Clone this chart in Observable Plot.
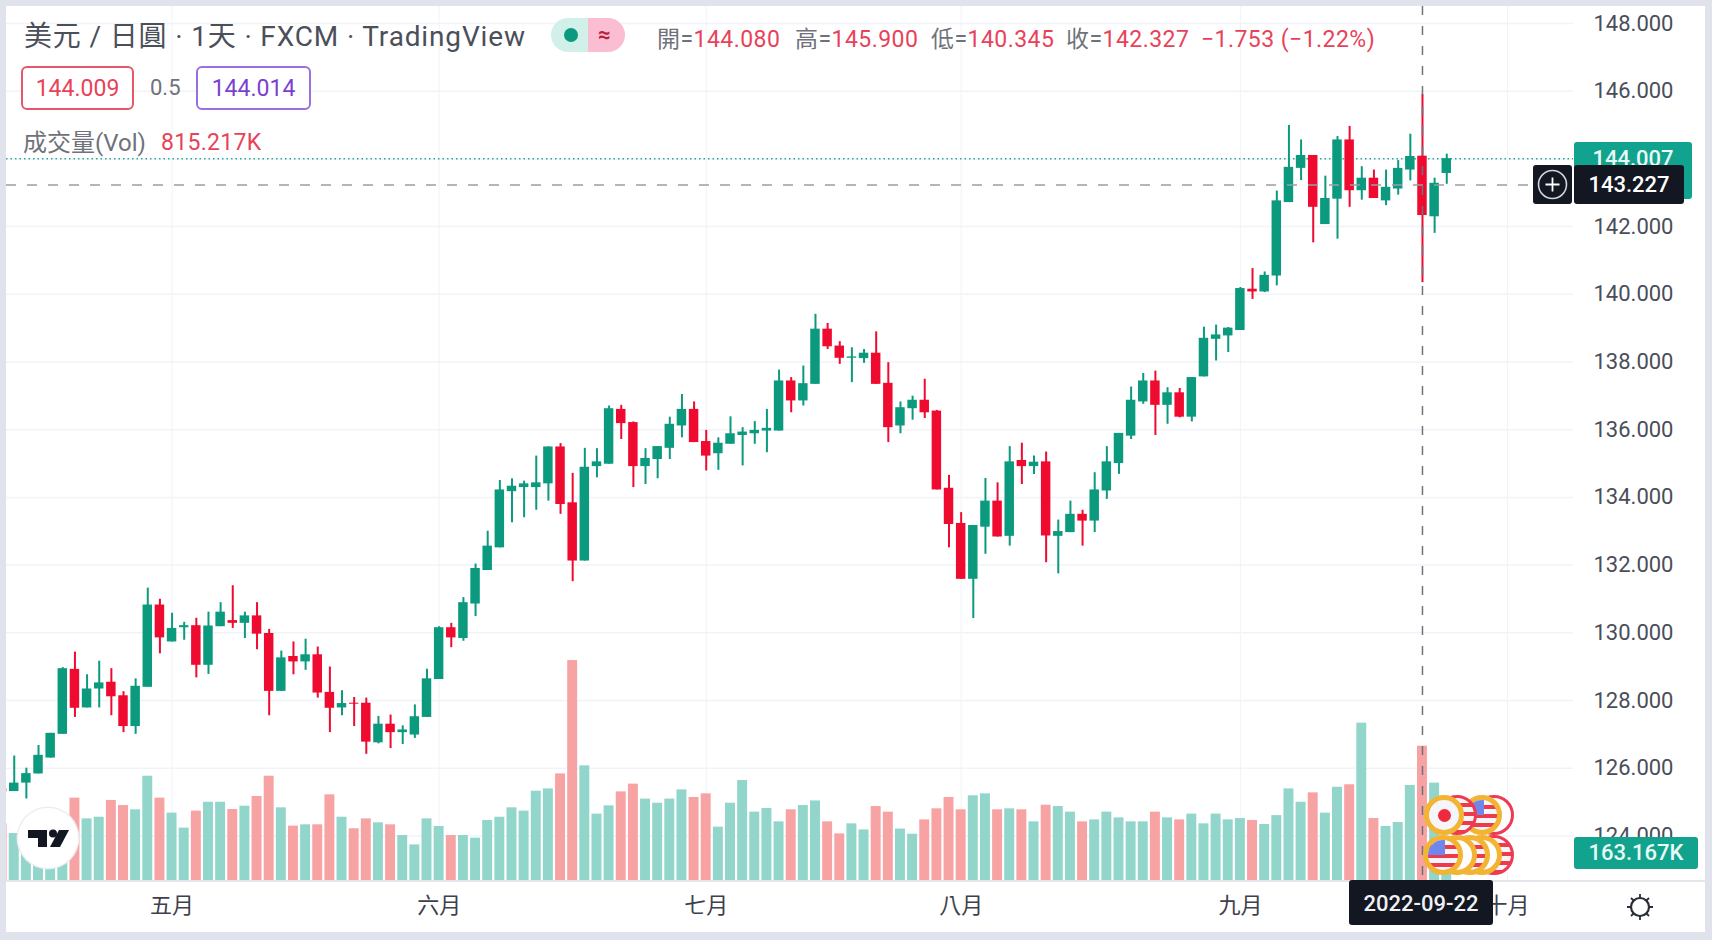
<!DOCTYPE html>
<html lang="zh-Hant">
<head>
<meta charset="utf-8">
<script src="https://cdn.jsdelivr.net/npm/d3@7"></script>
<script src="https://cdn.jsdelivr.net/npm/@observablehq/plot@0.6"></script>
<style>
html,body{margin:0;padding:0;background:#e0e3eb;}
#stage{position:relative;width:1712px;height:940px;overflow:hidden;background:#e0e3eb;font-family:Roboto,"Noto Sans CJK TC",sans-serif;}
#card{position:absolute;left:6px;top:6px;width:1699px;height:926px;background:#fff;}
#stage svg.layer, #stage figure{position:absolute;left:0;top:0;margin:0;}
.t{position:absolute;white-space:nowrap;line-height:1;}
.gray{color:#6f727b}.red{color:#e8425a}
.box{position:absolute;box-sizing:border-box;border-radius:6px;background:#fff;text-align:center;font-size:23px;}
.tag{position:absolute;box-sizing:border-box;text-align:center;border-radius:3px;font-size:22px;font-weight:500;}
.coin{position:absolute;box-sizing:border-box;width:40px;height:40px;border-radius:50%;}
</style>
</head>
<body>
<div id="stage"><div id="card"></div></div>
<script>
const opens=[125.4,125.31,125.56,125.83,126.3,127,128.92,127.78,128.34,128.54,128.14,127.23,128.39,130.82,129.73,130.15,130.21,129.04,130.18,130.36,
130.28,130.5,129.98,128.27,129.3,129.14,129.35,128.24,127.78,127.92,127.92,126.75,127.3,127.05,126.98,127.5,128.62,130.15,129.83,130.85,
131.84,132.51,134.17,134.29,134.29,134.4,135.49,133.84,132.12,134.91,134.98,136.6,136.21,134.91,135.12,135.45,136.11,136.6,135.65,135.29,
135.57,135.83,135.88,135.96,135.96,137.44,136.85,137.34,138.97,138.47,138.11,138.1,138.26,137.37,136.11,136.62,136.87,136.55,134.27,133.23,
131.58,133.12,133.89,132.85,135.09,134.91,135.05,132.85,132.96,133.5,133.3,134.19,135,135.81,136.82,137.44,136.72,137.09,136.37,137.56,
138.67,138.77,138.93,140.15,140.07,140.54,142.71,143.72,144.1,142.06,142.81,144.56,143.06,143.43,142.76,143.11,143.67,144.08,142.29,143.57];
const highs=[125.45,126.36,126,126.67,127.03,128.97,129.43,128.76,129.16,128.94,128.26,128.64,131.32,130.99,130.58,130.31,130.43,130.61,130.89,131.39,
130.61,130.89,130.1,129.46,129.73,129.81,129.58,128.99,128.29,128.09,128.07,127.53,127.57,127.25,127.87,128.92,130.18,130.28,131.04,132.03,
133,134.5,134.55,134.48,135.22,135.49,135.59,134.71,135.45,135.44,136.7,136.72,136.23,135.44,135.5,136.37,137.04,136.82,135.98,135.76,
136.38,136.06,136.24,136.6,137.76,137.54,137.88,139.41,139.14,138.6,138.42,138.37,138.89,137.98,136.82,136.99,137.49,136.57,134.65,133.55,
133.17,134.56,134.43,135.5,135.6,135.22,135.34,133.33,133.89,133.62,134.73,135.5,135.89,137.26,137.66,137.73,137.24,137.22,137.54,139.03,
139.09,139.02,140.2,140.76,140.66,143.05,144.99,144.56,144.1,143.49,144.66,144.96,143.77,143.67,143.67,143.95,144.73,145.9,143.43,144.14];
const lows=[125.25,125.31,125.09,125.83,126.3,127,127.5,127.78,127.78,127.55,127.05,127,128.39,129.38,129.73,129.78,128.67,128.77,130.18,130.13,
129.83,129.5,127.55,128.27,128.76,128.89,128.07,127.05,127.55,127.23,126.41,126.72,126.58,126.7,126.88,127.5,128.62,129.56,129.75,130.48,
131.84,132.51,133.25,133.4,133.62,133.89,133.5,131.51,132.12,134.58,134.98,135.71,134.29,134.38,134.55,135.12,135.76,135.62,134.78,134.8,
135.57,134.93,135.57,135.32,135.96,136.5,136.7,137.34,138.37,137.93,137.39,137.96,137.34,135.62,135.88,136.28,136.33,134.22,132.51,131.58,
130.42,132.32,132.83,132.56,134.38,134.68,132.07,131.74,132.96,132.56,132.96,133.94,134.68,135.71,136.75,135.83,136.16,136.35,136.23,137.56,
138.03,138.28,138.93,139.85,140.05,140.25,142.71,143.36,141.52,142.06,141.63,142.57,142.78,142.83,142.62,142.93,143.35,140.345,141.8,143.25];
const closes=[125.3,125.56,125.84,126.38,127.03,128.94,127.77,128.34,128.52,128.11,127.23,128.42,130.82,129.85,130.13,130.21,129.04,130.2,130.61,130.28,
130.5,129.96,128.27,129.26,129.14,129.35,128.22,127.77,127.91,127.89,126.77,127.3,127.05,127.13,127.52,128.64,130.15,129.85,130.89,131.9,
132.56,134.22,134.33,134.4,134.43,135.49,133.79,132.12,134.89,135.05,136.62,136.18,134.91,135.15,135.5,136.16,136.6,135.62,135.22,135.6,
135.88,135.93,135.98,136.04,137.44,136.85,137.36,138.97,138.45,138.11,138.15,138.26,137.34,136.06,136.65,136.87,136.5,134.22,133.2,131.58,
133.17,133.89,132.83,135.05,134.91,135.04,132.86,132.99,133.5,133.3,134.22,135.05,135.89,136.87,137.44,136.72,137.09,136.37,137.54,138.7,
138.8,139,140.17,140.07,140.56,142.76,143.75,144.1,142.57,142.83,144.56,143.06,143.43,142.83,143.16,143.72,144.07,142.327,143.28,144.007];
const volumes=[344,285,260,240,240,280,500,374,384,486,455,429,633,500,409,318,421,475,475,431,
451,510,633,441,330,338,338,520,384,314,374,350,338,273,216,374,328,273,273,257,
364,384,441,421,542,556,647,1335,696,403,453,538,585,494,469,494,550,504,526,324,
469,607,415,437,356,429,455,483,356,283,344,307,449,415,312,281,368,435,504,429,
514,526,429,435,429,356,457,449,415,356,368,415,380,356,356,415,380,368,403,344,
403,368,376,364,340,394,556,475,532,409,566,581,955,376,328,352,577,815.217,591,163.167];

const monthTicks=[14,36,58,79,102,124];
const monthLabels=["五月","六月","七月","八月","九月","十月"];
const gridTicks=[124,126,128,130,132,134,136,138,140,142,144,146,148];
const priceLabels=[124,126,128,130,132,134,136,138,140,142,146,148];
const crosshairIndex=117, crosshairPrice=143.227, lastPrice=144.007;

const candles=opens.map((o,i)=>({i,o,h:highs[i],l:lows[i],c:closes[i],v:volumes[i],up:closes[i]>=o}));
const GREEN="#0b9a7e", RED="#ef0a30", GREEN_V="#92d5ca", RED_V="#f8a3a3", GRID="#f1f3f8", FONT='Roboto,"Noto Sans CJK TC",sans-serif';

const frame={width:1712,height:940,marginLeft:6,marginRight:139,marginTop:6,marginBottom:60};
const xDomain=[(6-1.6)/12.14,(1573-1.6)/12.14];
const yDomain=[148-(880-23)/33.85,148+(23-6)/33.85];
const bg={background:"transparent",fontFamily:FONT,position:"absolute",left:0,top:0};

const pricePlot=Plot.plot({...frame,style:bg,
  x:{type:"linear",domain:xDomain,axis:null},
  y:{type:"linear",domain:yDomain,axis:null},
  marks:[
    Plot.gridX({ticks:monthTicks,stroke:GRID,strokeOpacity:1}),
    Plot.gridY({ticks:gridTicks,stroke:GRID,strokeOpacity:1,strokeWidth:1.5}),
    Plot.ruleY([lastPrice],{stroke:"#2aa897",strokeWidth:1.5,strokeDasharray:"1.5 3"}),
    Plot.ruleX(candles,{x:"i",y1:"l",y2:"h",stroke:d=>d.up?GREEN:RED,strokeWidth:2,clip:true}),
    Plot.rect(candles,{x1:d=>d.i-0.39,x2:d=>d.i+0.39,y1:"o",y2:"c",fill:d=>d.up?GREEN:RED,clip:true}),
    Plot.ruleY([crosshairPrice],{stroke:"#9a9da6",strokeWidth:1.5,strokeDasharray:"10 11"}),
    Plot.axisY({anchor:"right",ticks:priceLabels,tickFormat:d3.format(".3f"),tickSize:0,tickPadding:20,fontSize:22,label:null,color:"#4a4e59"}),
    Plot.axisX({ticks:monthTicks,tickFormat:i=>monthLabels[monthTicks.indexOf(i)],tickSize:0,tickPadding:17,fontSize:22,label:null,color:"#3d414c"})
  ]});

const volumePlot=Plot.plot({...frame,style:bg,
  x:{type:"linear",domain:xDomain,axis:null},
  y:{type:"linear",domain:[0,874*6.07],axis:null},
  marks:[
    Plot.rectY(candles,{x1:d=>d.i-0.41,x2:d=>d.i+0.41,y1:0,y2:"v",fill:d=>d.up?GREEN_V:RED_V,clip:true}),
    Plot.ruleX([crosshairIndex],{stroke:"#6f727c",strokeWidth:1.5,strokeDasharray:"9 11"})
  ]});

const stage=document.getElementById("stage");
stage.appendChild(pricePlot);
stage.appendChild(volumePlot);

function el(cls,css,html){const d=document.createElement("div");d.className=cls;d.style.cssText=css;d.innerHTML=html||"";stage.appendChild(d);return d;}
el("","position:absolute;left:6px;top:880px;width:1699px;height:2px;background:#e4e6ec;");

// header
el("t","left:24px;top:23px;font-size:28px;color:#4b4f5a;letter-spacing:.85px;","美元 / 日圓 · 1天 · FXCM · TradingView");
el("","position:absolute;left:551px;top:18px;width:37px;height:34px;background:#d2f0ea;border-radius:17px 0 0 17px;");
el("","position:absolute;left:588px;top:18px;width:37px;height:34px;background:#fabdd2;border-radius:0 17px 17px 0;");
el("","position:absolute;left:564px;top:28px;width:14px;height:14px;background:#0b9a7e;border-radius:50%;");
el("t","left:598px;top:24px;font-size:22px;color:#b5213f;font-weight:700;","≈");
const ohlc=[["開=","144.080",657],["高=","145.900",795],["低=","140.345",931],["收=","142.327",1066]];
ohlc.forEach(([a,b,x])=>el("t",`left:${x}px;top:28px;font-size:23px;letter-spacing:.45px;`,`<span class="gray">${a}</span><span class="red">${b}</span>`));
el("t red","left:1201px;top:28px;font-size:23px;letter-spacing:.45px;","−1.753 (−1.22%)");
el("box red","left:21px;top:66px;width:113px;height:44px;border:2px solid #e8566a;line-height:41px;","144.009");
el("t gray","left:150px;top:77px;font-size:22px;","0.5");
el("box","left:196px;top:66px;width:115px;height:44px;border:2px solid #9a6fe0;color:#7a3fd0;line-height:41px;","144.014");
el("t gray","left:23px;top:131px;font-size:24px;","成交量(Vol)");
el("t red","left:161px;top:131px;font-size:23px;letter-spacing:.3px;","815.217K");

// price tags
el("tag","left:1574px;top:142px;width:118px;height:57px;background:#12a38e;color:#e8faf6;line-height:33px;","144.007");
el("tag","left:1533px;top:165px;width:39px;height:39px;background:#131722;color:#fff;",
 `<svg width="39" height="39" style="position:absolute;left:0;top:0"><circle cx="19.5" cy="19.5" r="14" fill="none" stroke="#d1d4dc" stroke-width="1.6"/><path d="M19.5 12.5v14M12.5 19.5h14" stroke="#fff" stroke-width="1.8"/></svg>`);
el("tag","left:1574px;top:165px;width:110px;height:39px;background:#131722;color:#fff;line-height:39px;","143.227");
el("tag","left:1574px;top:837px;width:124px;height:32px;background:#12a38e;color:#e8faf6;line-height:32px;","163.167K");

// event coins, drawn right to left so the left ones sit on top
const US="background:repeating-linear-gradient(180deg,#f5f5fa 0 5px,#ef3a4a 5px 9px);";
const ringRed="border:3px solid #ee3a52;";
const ringGold="border:5px solid #f3b433;";
function coin(x,y,ring,inner,extra){
  const d=el("coin",`left:${x-20}px;top:${y-20}px;${ring}${inner}`,extra||"");d.style.overflow="hidden";return d;
}
const canton='<div style="position:absolute;left:0;top:0;width:55%;height:50%;background:#6f86ec;"></div>';
coin(1494,815,ringRed,"background:#fff;");
coin(1482,815,ringGold,US,canton);
coin(1457,815,ringRed,US);
coin(1444,815,ringGold,"background:#f5f5fa;",'<div style="position:absolute;left:50%;top:50%;width:13px;height:13px;margin:-6.5px;border-radius:50%;background:#ef2a3c;"></div>');
coin(1494,855,ringRed,US);
coin(1482,855,ringGold,"background:#fff;");
coin(1470,855,ringGold,US);
coin(1457,855,ringGold,"background:#fff;");
coin(1443,855,ringGold,US,canton);

// date tag
el("tag","left:1349px;top:880px;width:144px;height:45px;background:#131722;color:#f0f1f4;line-height:47px;","2022-09-22");

// logo
el("","position:absolute;left:18px;top:808px;width:60px;height:60px;border-radius:50%;background:#fff;box-shadow:0 0 0 1.5px #eceef2;",
 `<svg width="60" height="60" style="position:absolute;left:0;top:0"><path fill="#131722" d="M10 22h19v17h-9v-9h-10z"/><circle cx="35" cy="25.5" r="4" fill="#131722"/><path fill="#131722" d="M41 22h10l-9 17h-10z"/></svg>`);

// settings gear
el("","position:absolute;left:1626px;top:893px;width:28px;height:28px;",
 `<svg width="28" height="28"><circle cx="14" cy="14" r="9" fill="none" stroke="#2a2e39" stroke-width="2.2"/><path d="M14 1v4.5M14 22.5v4.5M1 14h4.5M22.5 14h4.5M5 5l2.5 2.5M23 5l-2.5 2.5M5 23l2.5-2.5M23 23l-2.5-2.5" stroke="#2a2e39" stroke-width="1.8"/></svg>`);
</script>
</body>
</html>
